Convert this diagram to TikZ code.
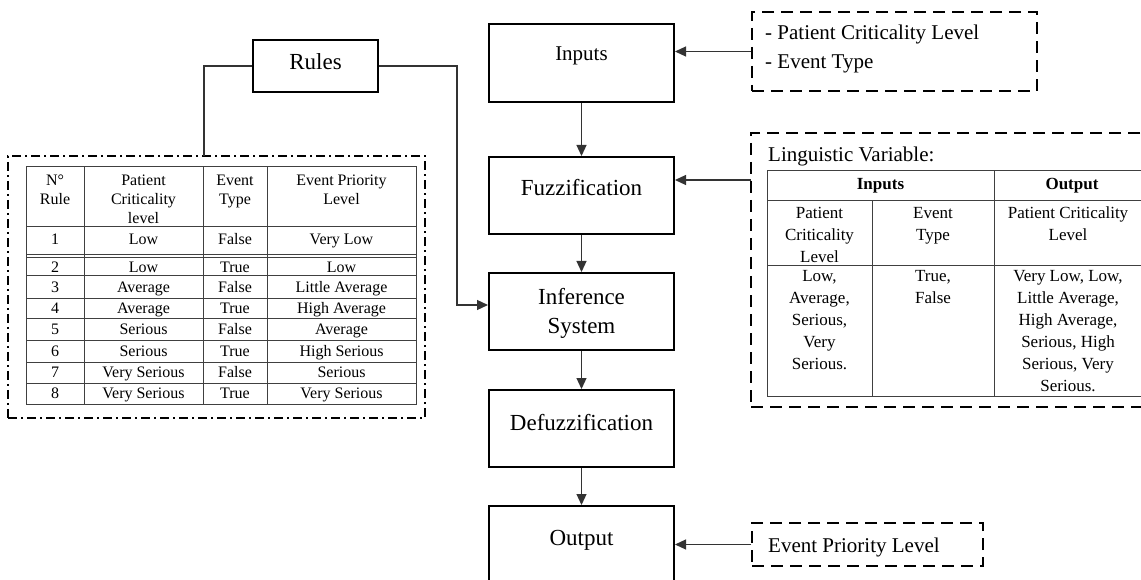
\documentclass[tikz,border=0pt]{standalone}
\usepackage{fontspec}
\setmainfont{Liberation Serif}
\usetikzlibrary{arrows.meta,calc}
\begin{document}
\begin{tikzpicture}[x=1pt,y=-1pt,
  box/.style={draw=black,line width=2pt,minimum width=185pt,minimum height=77pt,inner sep=0pt},
  boxtxt/.style={font=\fontsize{23}{28}\selectfont,inner sep=0pt,align=center,anchor=base},
  conn/.style={draw=black!80,line width=1.2pt},
  arr/.style={conn,-{Triangle[length=11pt,width=10pt]}},
  dbox/.style={draw=black,line width=2pt,dash pattern=on 12pt off 7pt,inner sep=0pt},
  ddbox/.style={draw=black,line width=1.8pt,dash pattern=on 9pt off 4pt on 2pt off 4pt,inner sep=0pt},
  tline/.style={draw=black!75,line width=1pt},
  tt/.style={font=\fontsize{16}{19}\selectfont,inner sep=0pt,align=center,anchor=base},
  rt/.style={font=\fontsize{17}{22}\selectfont,inner sep=0pt,align=center,anchor=base},
  lt/.style={font=\fontsize{21}{29}\selectfont,inner sep=0pt,align=left,anchor=base west},
]
\clip (0,0) rectangle (1141,580);
\fill[white] (0,0) rectangle (1141,580);

% main column boxes
\node[box,minimum height=78pt] (inputs) at (581.5,63) {};
\node[box] (fuzz) at (581.5,195.5) {};
\node[box] (infer) at (581.5,311.5) {};
\node[box] (defuzz) at (581.5,428.5) {};
\node[box] (output) at (581.5,544.5) {};
\node[box,minimum width=125pt,minimum height=52pt] (rules) at (315.5,66) {};

\node[boxtxt,font=\fontsize{21}{26}\selectfont] (inputst) at (581.5,61) {Inputs};
\node[boxtxt] (fuzzt) at (581.5,196) {Fuzzification};
\node[boxtxt] (infert1) at (581.5,305) {Inference};
\node[boxtxt] (infert2) at (581.5,333) {System};
\node[boxtxt] (defuzzt) at (581.5,430) {Defuzzification};
\node[boxtxt] (outputt) at (581.5,545) {Output};
\node[boxtxt] (rulest) at (315.5,70) {Rules};

% main arrows
\draw[arr] (inputs) -- (fuzz);
\draw[arr] (fuzz) -- (infer);
\draw[arr] (infer) -- (defuzz);
\draw[arr] (defuzz) -- (output);

% frames
\node[dbox,minimum width=285pt,minimum height=79pt] (inframe) at (894.5,51.5) {};
\node[dbox,minimum width=409pt,minimum height=274pt] (lvframe) at (955.5,270) {};
\node[dbox,minimum width=231pt,minimum height=43pt] (outframe) at (867.5,544.5) {};
\node[ddbox,minimum width=417pt,minimum height=262pt] (ruleframe) at (216.5,287) {};

% input texts
\node[lt] (inlist1) at (765,40) {- Patient Criticality Level};
\node[lt] (inlist2) at (765,69) {- Event Type};
\node[lt] (outlist) at (768,552) {Event Priority Level};
\node[lt] (lv) at (768,162) {Linguistic Variable:};

% connectors
\draw[arr] (inframe.west) -- (inframe.west -| inputs.east);
\coordinate (lva) at (751,180);
\draw[arr] (lva) -- (lva -| fuzz.east);
\draw[arr] (outframe.west) -- (outframe.west -| output.east);
\coordinate (rl) at (204,156);
\draw[conn] (rules.west) -| (rl);
\coordinate (rr) at (457,305);
\draw[arr] (rules.east) -| (rr) -- (rr -| infer.west);

% rules table
\draw[tline] (26,167) rectangle (416,404);
\foreach \yy in {227,255,257.5,276,298,318,340,362,383} \draw[tline] (26,\yy) -- (416,\yy);
\foreach \xx in {84,203,267} \draw[tline] (\xx,167) -- (\xx,404);
\node[tt] (h1) at (55,186) {N°};
\node[tt] (h1b) at (55,205) {Rule};
\node[tt] (h2) at (143.5,186) {Patient};
\node[tt] (h2b) at (143.5,205) {Criticality};
\node[tt] (h2c) at (143.5,224) {level};
\node[tt] (h3) at (235,186) {Event};
\node[tt] (h3b) at (235,205) {Type};
\node[tt] (h4) at (341.5,186) {Event Priority};
\node[tt] (h4b) at (341.5,205) {Level};
\foreach \n/\p/\e/\l/\yy in {1/Low/False/Very Low/244.5,2/Low/True/Low/272.5,3/Average/False/Little Average/292.5,4/Average/True/High Average/313.5,5/Serious/False/Average/334.5,6/Serious/True/High Serious/356.5,7/Very Serious/False/Serious/377.5,8/Very Serious/True/Very Serious/398.5}{
  \node[tt] (rn\n) at (55,\yy) {\n};
  \node[tt] (rp\n) at (143.5,\yy) {\p};
  \node[tt] (re\n) at (235,\yy) {\e};
  \node[tt] (rl\n) at (341.5,\yy) {\l};
}

% linguistic table
\draw[tline] (767,171) rectangle (1142,396);
\draw[tline] (767,201) -- (1142,201);
\draw[tline] (767,266) -- (1142,266);
\draw[tline] (994,171) -- (994,396);
\draw[tline] (872,201) -- (872,396);
\node[rt] (thin) at (880.5,190) {\textbf{Inputs}};
\node[rt] (thout) at (1072,190) {\textbf{Output}};
\foreach \t [count=\i] in {Patient,Criticality,Level} \node[rt] (ca\i) at (819.5,197+22*\i) {\t};
\foreach \t [count=\i] in {Event,Type} \node[rt] (cb\i) at (933,197+22*\i) {\t};
\foreach \t [count=\i] in {Patient Criticality,Level} \node[rt] (cc\i) at (1068,197+22*\i) {\t};
\foreach \t [count=\i] in {{Low,},{Average,},{Serious,},Very,Serious.} \node[rt] (da\i) at (819.5,259+22*\i) {\t};
\foreach \t [count=\i] in {{True,},False} \node[rt] (db\i) at (933,259+22*\i) {\t};
\foreach \t [count=\i] in {{Very Low, Low,},{Little Average,},{High Average,},{Serious, High},{Serious, Very},Serious.} \node[rt] (dc\i) at (1068,259+22*\i) {\t};
\end{tikzpicture}
\end{document}
